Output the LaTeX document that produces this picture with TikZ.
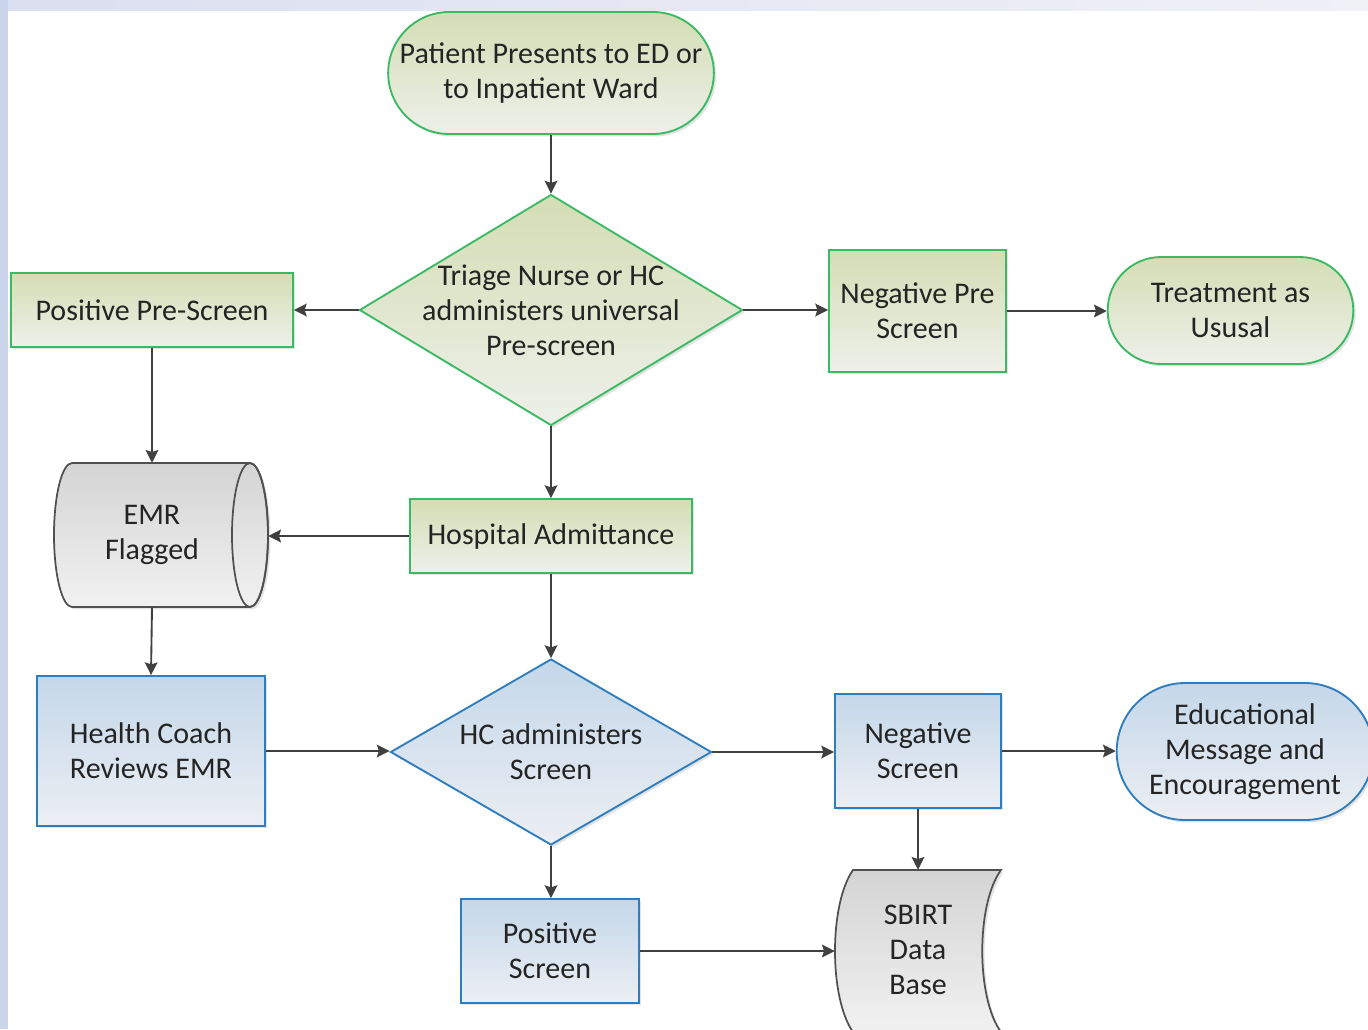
\documentclass[tikz,border=0pt]{standalone}
\usepackage{fontspec}
\setmainfont{Carlito}
\usetikzlibrary{shapes.geometric,shapes.misc,arrows.meta,shadows}
\definecolor{gline}{RGB}{58,186,98}
\definecolor{gtop}{RGB}{212,221,180}
\definecolor{gbot}{RGB}{238,240,234}
\definecolor{bline}{RGB}{46,125,192}
\definecolor{btop}{RGB}{196,215,233}
\definecolor{bbot}{RGB}{236,239,244}
\definecolor{kline}{RGB}{80,80,80}
\definecolor{ktop}{RGB}{212,212,212}
\definecolor{kbot}{RGB}{241,241,241}
\definecolor{arrc}{RGB}{64,64,64}
\definecolor{txt}{RGB}{36,36,36}
\definecolor{bandl}{RGB}{202,212,235}
\definecolor{bandt}{RGB}{219,223,240}
\definecolor{bandr}{RGB}{240,241,247}
\begin{document}
\begin{tikzpicture}[x=0.75pt,y=-0.75pt,
  boxbase/.style={font=\fontsize{22.5}{26.25}\selectfont, text=txt, align=center,
    inner sep=2pt, line width=1.4pt,
    drop shadow={shadow xshift=1.8pt, shadow yshift=-1.8pt, opacity=0.22}},
  greenbox/.style={boxbase, rectangle, draw=gline, top color=gtop, bottom color=gbot},
  bluebox/.style={boxbase, rectangle, draw=bline, top color=btop, bottom color=bbot},
  greenterm/.style={greenbox, rounded rectangle},
  blueterm/.style={bluebox, rounded rectangle},
  greendia/.style={greenbox, diamond, inner sep=0pt},
  bluedia/.style={bluebox, diamond, inner sep=0pt},
  diatext/.style={font=\fontsize{22.5}{26.25}\selectfont, text=txt, align=center},
  plaintext/.style={font=\fontsize{22.5}{26.25}\selectfont, text=txt, align=center, inner sep=0pt},
  grayshape/.style={draw=kline, line width=1.3pt, top color=ktop, bottom color=kbot,
    drop shadow={shadow xshift=1.8pt, shadow yshift=-1.8pt, opacity=0.22}},
  arr/.style={draw=arrc, line width=1.4pt, -{Stealth[length=9.5pt,width=9.5pt,inset=1.5pt]}}
]
\useasboundingbox (0,0) rectangle (1368,1029);
% background frame
\fill[white] (0,0) rectangle (1368,1029);
\shade[left color=bandt, right color=bandr] (0,0) rectangle (1368,10);
\fill[bandl] (0,0) rectangle (8,1029);

% custom gray shapes
\draw[grayshape] (72,463) -- (250,463)
  .. controls (259.9,463) and (268,495.2) .. (268,535)
  .. controls (268,574.8) and (259.9,607) .. (250,607) -- (72,607)
  .. controls (62.1,607) and (54,574.8) .. (54,535)
  .. controls (54,495.2) and (62.1,463) .. (72,463) -- cycle;
\draw[draw=kline, line width=1.3pt] (250,535) ellipse [x radius=13.5pt, y radius=54pt];
\draw[grayshape] (853,870) -- (1001,870)
  .. controls (976,904) and (976,998) .. (1001,1032) -- (853,1032)
  .. controls (829,998) and (829,904) .. (853,870) -- cycle;

% nodes
\node[greenterm, minimum width=248.25pt, minimum height=91.5pt] (start) at (551,73)
  {Patient Presents to ED or\\to Inpatient Ward};
\node[greendia, minimum width=287.25pt, minimum height=173.25pt,
  label={[diatext]center:Triage Nurse or HC\\administers universal\\Pre-screen}] (d1) at (551,310) {};
\node[greenbox, minimum width=211.5pt, minimum height=55.5pt] (pps) at (152,310) {Positive Pre-Screen};
\node[greenbox, minimum width=132.75pt, minimum height=91.5pt] (npre) at (917.5,311) {Negative Pre\\Screen};
\node[greenterm, minimum width=188.25pt, minimum height=80.25pt] (treat) at (1230.5,310.5) {Treatment as\\Ususal};
\node[greenbox, minimum width=211.5pt, minimum height=55.5pt] (hosp) at (551,536) {Hospital Admittance};
\node[plaintext, minimum width=174pt, minimum height=108pt] (emr) at (152,535) {EMR\\Flagged};
\node[bluebox, minimum width=171pt, minimum height=112.5pt] (hc) at (151,751) {Health Coach\\Reviews EMR};
\node[bluedia, minimum width=240.75pt, minimum height=139.5pt,
  label={[diatext]center:HC administers\\Screen}] (d2) at (551,752) {};
\node[bluebox, minimum width=124.5pt, minimum height=85.5pt] (nscr) at (918,751) {Negative\\Screen};
\node[blueterm, minimum width=196.5pt, minimum height=102.75pt] (edu) at (1245,751.5) {Educational\\Message and\\Encouragement};
\node[bluebox, minimum width=133.5pt, minimum height=78pt] (pscr) at (550,951) {Positive\\Screen};
\node[plaintext, minimum width=124.5pt, minimum height=120pt] (sbirt) at (918,950) {SBIRT\\Data\\Base};

% connectors
\draw[arr] (start.south -| d1.north) -- (d1.north);
\draw[arr] (d1.west) -- (pps.east);
\draw[arr] (d1.east) -- (d1.east -| npre.west);
\draw[arr] (npre.east) -- (npre.east -| treat.west);
\draw[arr] (d1.south) -- (d1.south |- hosp.north);
\draw[arr] (pps.south) -- (emr.north);
\draw[arr] (hosp.west) -- (hosp.west -| emr.east);
\draw[arr] (emr.south) -- (hc.north);
\draw[arr] (hc.east) -- (hc.east -| d2.west);
\draw[arr] (d2.east) -- (d2.east -| nscr.west);
\draw[arr] (nscr.east) -- (nscr.east -| edu.west);
\draw[arr] (nscr.south) -- (sbirt.north);
\draw[arr] (hosp.south -| d2.north) -- (d2.north);
\draw[arr] (d2.south) -- (d2.south |- pscr.north);
\draw[arr] (pscr.east) -- (pscr.east -| sbirt.west);
\end{tikzpicture}
\end{document}
